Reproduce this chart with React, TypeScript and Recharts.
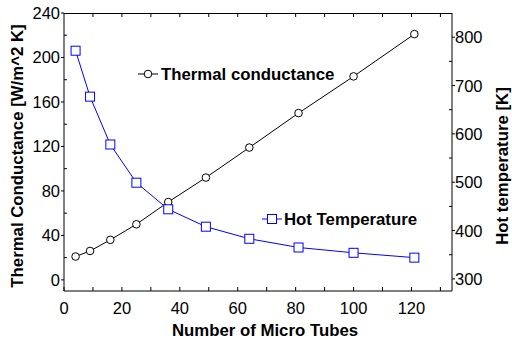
import { ComposedChart, Line, XAxis, YAxis } from 'recharts'

const tubes = [4, 9, 16, 25, 36, 49, 64, 81, 100, 121]
const conductance = [21, 26, 36, 50, 70, 92, 119, 150, 183, 221]
const hotTemp = [772, 677, 578, 499, 444, 408, 383, 365, 354, 344]

const xTicks = [0, 10, 20, 30, 40, 50, 60, 70, 80, 90, 100, 110, 120, 130]
const leftTicks = [0, 20, 40, 60, 80, 100, 120, 140, 160, 180, 200, 220, 240]
const rightTicks = [300, 350, 400, 450, 500, 550, 600, 650, 700, 750, 800]

const data = tubes.map((n, i) => ({ n, conductance: conductance[i], hot: hotTemp[i] }))

const W = 512
const H = 345
const margin = { top: 13, right: 10, bottom: 24, left: 14 }
const yAxisW = 50
const xAxisH = 30
const xDomain = [0, 134]

// plot box, used for the top frame line (no top axis in the chart)
const plotLeft = margin.left + yAxisW
const plotRight = W - margin.right - yAxisW
const plotTop = margin.top
const topTickX = xTicks
  .slice(1)
  .map((t) => plotLeft + ((t - xDomain[0]) / (xDomain[1] - xDomain[0])) * (plotRight - plotLeft))

const font = 'Arial, "Liberation Sans", sans-serif'
const tickFont = 16.5
const titleFont = 16.8

function BottomTick({ x, y, payload }: any) {
  const major = payload.value % 20 === 0
  return (
    <g>
      <line x1={x} y1={y} x2={x} y2={y - 4} stroke="#000" />
      {major && (
        <text x={x} y={y + 23} textAnchor="middle" fontSize={tickFont} fontFamily={font} fill="#000">
          {payload.value}
        </text>
      )}
    </g>
  )
}

function LeftTick({ x, y, payload }: any) {
  const major = payload.value % 40 === 0
  return (
    <g>
      {major ? (
        <line x1={x} y1={y} x2={x - 3} y2={y} stroke="#000" />
      ) : (
        <line x1={x} y1={y} x2={x + 3} y2={y} stroke="#000" />
      )}
      {major && (
        <text x={x - 4} y={y + 6} textAnchor="end" fontSize={tickFont} fontFamily={font} fill="#000">
          {payload.value}
        </text>
      )}
    </g>
  )
}

function RightTick({ x, y, payload }: any) {
  const major = payload.value % 100 === 0
  return (
    <g>
      {major ? (
        <line x1={x} y1={y} x2={x + 3} y2={y} stroke="#000" />
      ) : (
        <line x1={x} y1={y} x2={x - 3} y2={y} stroke="#000" />
      )}
      {major && (
        <text x={x + 3} y={y + 6} textAnchor="start" fontSize={tickFont} fontFamily={font} fill="#000">
          {payload.value}
        </text>
      )}
    </g>
  )
}

function Square({ cx, cy }: any) {
  if (cx == null || cy == null) return null
  return <rect x={cx - 4.5} y={cy - 4.5} width={9} height={9} fill="#fff" stroke="#0000ff" strokeWidth={1} />
}

function Circle({ cx, cy }: any) {
  if (cx == null || cy == null) return null
  return <circle cx={cx} cy={cy} r={3.8} fill="#fff" stroke="#000" strokeWidth={1} />
}

export default function App() {
  return (
    <div style={{ position: 'absolute', left: 0, top: 0, width: W, height: H, background: '#fff' }}>
      <ComposedChart width={W} height={H} data={data} margin={margin}>
        <XAxis
          dataKey="n"
          type="number"
          domain={xDomain}
          ticks={xTicks}
          interval={0}
          allowDataOverflow
          height={xAxisH}
          tickSize={0}
          tickMargin={0}
          tick={<BottomTick />}
          axisLine={{ stroke: '#000' }}
        />
        <YAxis
          yAxisId="left"
          type="number"
          domain={[-10, 240]}
          ticks={leftTicks}
          interval={0}
          allowDataOverflow
          width={yAxisW}
          tickSize={0}
          tickMargin={0}
          tick={<LeftTick />}
          axisLine={{ stroke: '#000' }}
        />
        <YAxis
          yAxisId="right"
          orientation="right"
          type="number"
          domain={[275, 850]}
          ticks={rightTicks}
          interval={0}
          allowDataOverflow
          width={yAxisW}
          tickSize={0}
          tickMargin={0}
          tick={<RightTick />}
          axisLine={{ stroke: '#000' }}
        />
        <Line
          yAxisId="left"
          dataKey="conductance"
          type="linear"
          stroke="#000"
          strokeWidth={1}
          dot={<Circle />}
          isAnimationActive={false}
        />
        <Line
          yAxisId="right"
          dataKey="hot"
          type="linear"
          stroke="#0000ff"
          strokeWidth={1}
          dot={<Square />}
          isAnimationActive={false}
        />
        <g>
          <line x1={plotLeft} y1={plotTop + 0.5} x2={plotRight} y2={plotTop + 0.5} stroke="#000" />
          {topTickX.map((x) => (
            <line key={x} x1={x} y1={plotTop} x2={x} y2={plotTop + 4} stroke="#000" />
          ))}
          <line x1={138} y1={74} x2={158} y2={74} stroke="#000" />
          <circle cx={148} cy={74} r={3.8} fill="#fff" stroke="#000" />
          <text x={161} y={80} fontSize={titleFont} fontWeight="bold" fontFamily={font} fill="#000">
            Thermal conductance
          </text>
          <line x1={262} y1={219} x2={282} y2={219} stroke="#0000ff" />
          <rect x={267.5} y={214.5} width={9} height={9} fill="#fff" stroke="#0000ff" />
          <text x={284} y={225} fontSize={titleFont} fontWeight="bold" fontFamily={font} fill="#000">
            Hot Temperature
          </text>
          <text x={265} y={336} textAnchor="middle" fontSize={titleFont} fontWeight="bold" fontFamily={font} fill="#000">
            Number of Micro Tubes
          </text>
          <text
            x={23}
            y={156}
            transform="rotate(-90 23 156)"
            textAnchor="middle"
            fontSize={titleFont}
            fontWeight="bold"
            fontFamily={font}
            fill="#000"
          >
            Thermal Conductance [W/m^2 K]
          </text>
          <text
            x={508}
            y={166}
            transform="rotate(-90 508 166)"
            textAnchor="middle"
            fontSize={titleFont}
            fontWeight="bold"
            fontFamily={font}
            fill="#000"
          >
            Hot temperature [K]
          </text>
        </g>
      </ComposedChart>
    </div>
  )
}
